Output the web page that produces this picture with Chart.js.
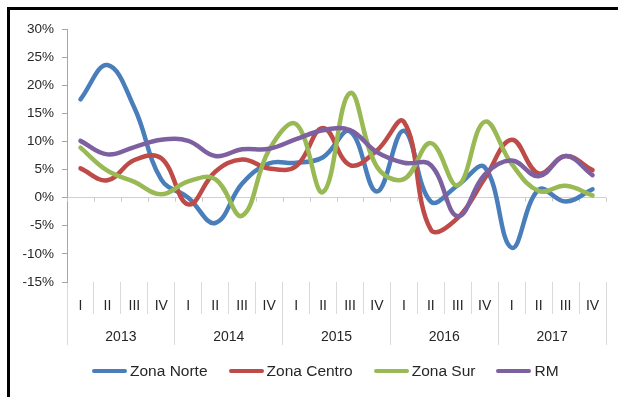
<!DOCTYPE html>
<html>
<head>
<meta charset="utf-8">
<script src="https://cdn.jsdelivr.net/npm/chart.js@4"></script>
<style>
  html, body { margin: 0; padding: 0; background: #fff; overflow: hidden; }
  #wrap { position: relative; width: 618px; height: 397px; overflow: hidden; }
  #c { position: absolute; left: 0; top: 0; }
  #legend { position: absolute; top: 362px; left: 92px; display: flex; white-space: nowrap;
            font-family: "Liberation Sans", Arial, sans-serif; font-size: 15.5px; color: #262626; }
  #legend .item { display: flex; align-items: center; margin-right: 21px; }
  #legend .sw { width: 35px; height: 4px; border-radius: 2px; margin-right: 3px; }
</style>
</head>
<body>
<div id="wrap">
  <canvas id="c" width="618" height="397"></canvas>
  <div id="legend"></div>
</div>
<script>
// Quarterly variation (%) by zone, 2013-2017
const quarters = ['I','II','III','IV','I','II','III','IV','I','II','III','IV','I','II','III','IV','I','II','III','IV'];
const years = ['2013','2014','2015','2016','2017'];

const zonaNorte  = [17.5, 23.6, 16.0, 3.2, 0.0, -4.5, 2.5, 6.1, 6.2, 7.2, 11.8, 1.1, 11.9, -0.7, 2.2, 5.4, -8.9, 1.4, -0.7, 1.5];
const zonaCentro = [5.2, 3.1, 6.7, 7.0, -1.2, 4.6, 6.8, 5.2, 5.6, 12.4, 5.8, 8.4, 13.5, -5.7, -3.6, 3.4, 10.3, 4.3, 7.4, 4.9];
const zonaSur    = [8.9, 4.8, 2.8, 0.6, 2.9, 3.3, -3.2, 8.5, 13.1, 1.0, 18.6, 5.5, 3.3, 9.7, 2.2, 13.5, 6.0, 1.2, 2.1, 0.4];
const rm         = [10.1, 7.7, 9.0, 10.3, 10.1, 7.4, 8.6, 8.7, 10.4, 12.0, 12.0, 8.1, 6.2, 5.8, -3.3, 4.1, 6.6, 3.8, 7.4, 4.0];

const seriesNames = ['Zona Norte', 'Zona Centro', 'Zona Sur', 'RM'];
const seriesData = [zonaNorte, zonaCentro, zonaSur, rm];
const seriesColors = ['#4A7EBB', '#BE4B48', '#98B954', '#7D60A0'];

const FONT = '"Liberation Sans", Arial, sans-serif';
const TEXT = '#262626';
Chart.defaults.font.family = FONT;
Chart.defaults.font.size = 14;
Chart.defaults.color = TEXT;

// black frame along the top and left of the chart box
const outerFrame = {
  id: 'outerFrame',
  afterDraw(chart) {
    const { ctx, width, height } = chart;
    ctx.save();
    ctx.fillStyle = '#000';
    ctx.fillRect(7, 7, width - 7, 3);
    ctx.fillRect(7, 7, 3, height - 7);
    ctx.restore();
  }
};

// small tick marks hanging below the zero line at each category boundary
const zeroLineTicks = {
  id: 'zeroLineTicks',
  beforeDatasetsDraw(chart) {
    const { ctx, scales: { x, y } } = chart;
    const y0 = y.getPixelForValue(0);
    const n = x.ticks.length;
    const step = (x.right - x.left) / n;
    ctx.save();
    ctx.strokeStyle = '#c8c8c8';
    ctx.lineWidth = 1;
    ctx.beginPath();
    for (let i = 0; i <= n; i++) {
      const px = Math.round(x.left + i * step) + 0.5;
      ctx.moveTo(px, y0);
      ctx.lineTo(px, y0 + 4);
    }
    ctx.stroke();
    ctx.restore();
  }
};

const chart = new Chart(document.getElementById('c'), {
  type: 'line',
  data: {
    labels: quarters,
    datasets: seriesNames.map((name, i) => ({
      label: name,
      data: seriesData[i],
      borderColor: seriesColors[i],
      backgroundColor: seriesColors[i],
      borderWidth: 4.5,
      tension: 0.4,
      pointRadius: 0,
      borderCapStyle: 'round',
      borderJoinStyle: 'round',
      fill: false,
      order: seriesNames.length - i
    }))
  },
  options: {
    responsive: false,
    animation: false,
    layout: { padding: { top: 29, right: 12, bottom: 52, left: 0 } },
    plugins: { legend: { display: false }, tooltip: { enabled: false } },
    scales: {
      y: {
        min: -15, max: 30,
        ticks: { stepSize: 5, padding: 8, callback: v => v + '%', font: { size: 13.5 }, color: TEXT },
        grid: {
          color: c => (c.tick && c.tick.value === 0) ? '#d0d0d0' : 'rgba(0,0,0,0)',
          tickColor: '#a6a6a6',
          tickLength: 5,
          lineWidth: 1
        },
        border: { display: true, color: '#a6a6a6', width: 1 },
        afterFit: s => { s.width = 67; }
      },
      x: {
        type: 'category',
        position: 'bottom',
        weight: 0,
        offset: true,
        grid: { offset: true, drawOnChartArea: false, drawTicks: true, tickLength: 32, tickColor: '#d9d9d9', color: '#d9d9d9' },
        border: { display: false },
        ticks: { padding: -16, maxRotation: 0, autoSkip: false, font: { size: 14 }, color: TEXT },
        afterFit: s => { s.height = 32; }
      },
      x2: {
        type: 'category',
        labels: years,
        position: 'bottom',
        weight: 1,
        offset: true,
        grid: { offset: true, drawOnChartArea: false, drawTicks: true, tickLength: 31, tickColor: '#d9d9d9', color: '#d9d9d9' },
        border: { display: false },
        ticks: { padding: -16, maxRotation: 0, autoSkip: false, font: { size: 14 }, color: TEXT },
        afterFit: s => { s.height = 31; }
      }
    }
  },
  plugins: [zeroLineTicks, outerFrame]
});

// legend built from the chart's datasets
const legendEl = document.getElementById('legend');
chart.data.datasets.forEach(ds => {
  const item = document.createElement('div');
  item.className = 'item';
  const sw = document.createElement('span');
  sw.className = 'sw';
  sw.style.background = ds.borderColor;
  const txt = document.createElement('span');
  txt.textContent = ds.label;
  item.appendChild(sw);
  item.appendChild(txt);
  legendEl.appendChild(item);
});
</script>
</body>
</html>
